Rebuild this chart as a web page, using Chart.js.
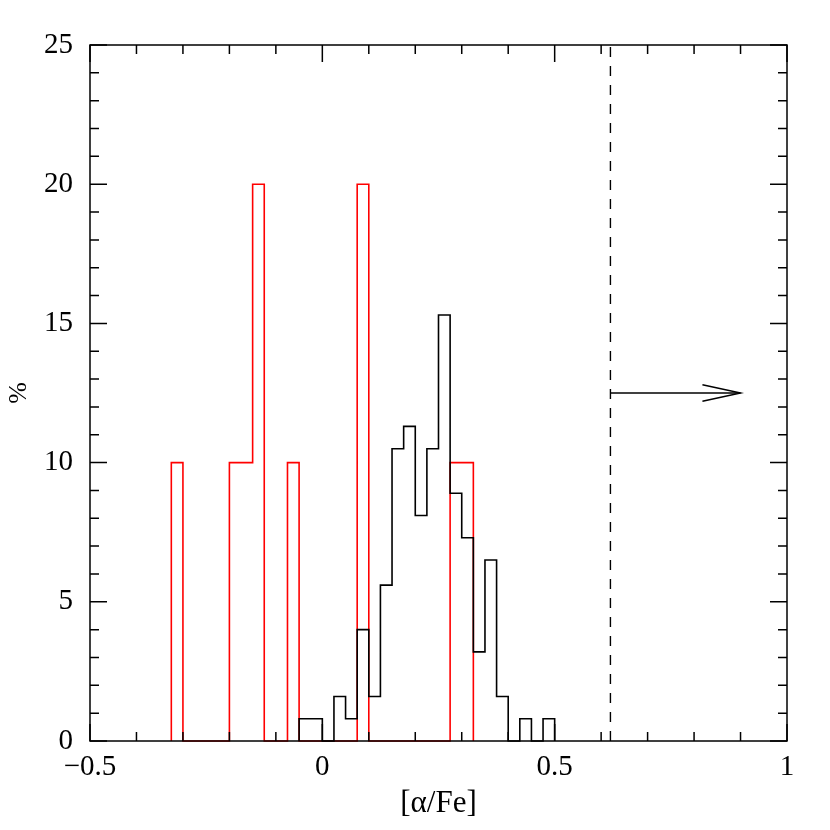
<!DOCTYPE html>
<html>
<head>
<meta charset="utf-8">
<script src="https://cdn.jsdelivr.net/npm/chart.js@4.4.1/dist/chart.umd.min.js"></script>
<style>
  html, body { margin: 0; padding: 0; background: #fff; }
  #wrap { width: 830px; height: 830px; }
</style>
</head>
<body>
<div id="wrap"><canvas id="histChart" width="830" height="830"></canvas></div>
<script>
// histogram bins (width 0.025), values in %
const binWidth = 0.025;

const blackStart = -0.05;
const blackValues = [0.8, 0.8, 0, 1.6, 0.8, 4.0, 1.6, 5.6, 10.5, 11.3, 8.1,
                     10.5, 15.3, 8.9, 7.3, 3.2, 6.5, 1.6, 0, 0.8, 0, 0.8];

const redStart = -0.325;
const redValues = [10, 0, 0, 0, 0, 10, 10, 20, 0, 0, 10, 0, 0, 0, 0, 0,
                   20, 0, 0, 0, 0, 0, 0, 0, 10, 10];

// limit marker and arrow
const limitX = 0.62;
const limitY = [0, 25];
const arrowX = [0.62, 0.9];
const arrowY = 12.5;
const arrowHeadX = [0.818, 0.9, 0.818];
const arrowHeadY = [12.8, 12.5, 12.2];

const xTicks = [-0.5, 0, 0.5, 1];
const yTicks = [0, 5, 10, 15, 20, 25];

function histPoints(start, values) {
    const pts = [{ x: start, y: 0 }];
    values.forEach((v, i) => pts.push({ x: start + i * binWidth, y: v }));
    pts.push({ x: start + values.length * binWidth, y: 0 });
    return pts;
}

function fmt(v) {
    if (v < 0) return '\u2212' + Math.abs(v);
    return String(v);
}

// box with inward ticks on all four sides
const frameTicks = {
    id: 'frameTicks',
    afterDatasetsDraw(chart) {
        const { ctx, chartArea: a, scales: { x, y } } = chart;
        ctx.save();
        ctx.strokeStyle = '#000';
        ctx.lineWidth = 1.5;
        ctx.strokeRect(a.left, a.top, a.right - a.left, a.bottom - a.top);
        ctx.beginPath();
        for (let i = 0; i <= 15; i++) {
            const v = -0.5 + i * 0.1;
            const px = x.getPixelForValue(v);
            const len = (i % 5 === 0) ? 17 : 9;
            ctx.moveTo(px, a.bottom); ctx.lineTo(px, a.bottom - len);
            ctx.moveTo(px, a.top); ctx.lineTo(px, a.top + len);
        }
        for (let v = 0; v <= 25; v++) {
            const py = y.getPixelForValue(v);
            const len = (v % 5 === 0) ? 17 : 9;
            ctx.moveTo(a.left, py); ctx.lineTo(a.left + len, py);
            ctx.moveTo(a.right, py); ctx.lineTo(a.right - len, py);
        }
        ctx.stroke();
        ctx.restore();
    }
};

const tickFont = { family: "'Liberation Serif', serif", size: 29 };

new Chart(document.getElementById('histChart').getContext('2d'), {
    type: 'line',
    data: {
        datasets: [
            {
                data: histPoints(blackStart, blackValues),
                borderColor: '#000',
                borderWidth: 1.6,
                stepped: 'before',
                pointRadius: 0,
                clip: false
            },
            {
                data: histPoints(redStart, redValues),
                borderColor: '#ff0000',
                borderWidth: 1.6,
                stepped: 'before',
                pointRadius: 0,
                clip: false
            },
            {
                data: limitY.map(v => ({ x: limitX, y: v })),
                borderColor: '#000',
                borderWidth: 1.4,
                borderDash: [10, 9],
                pointRadius: 0
            },
            {
                data: arrowX.map(v => ({ x: v, y: arrowY })),
                borderColor: '#000',
                borderWidth: 1.5,
                pointRadius: 0
            },
            {
                data: arrowHeadX.map((v, i) => ({ x: v, y: arrowHeadY[i] })),
                borderColor: '#000',
                borderWidth: 1.5,
                pointRadius: 0
            }
        ]
    },
    options: {
        responsive: false,
        animation: false,
        layout: { padding: { top: 45, right: 43, left: 4, bottom: 0 } },
        plugins: {
            legend: { display: false },
            tooltip: { enabled: false }
        },
        scales: {
            x: {
                type: 'linear',
                min: -0.5,
                max: 1,
                afterFit: s => { s.height = 89; },
                afterBuildTicks: s => { s.ticks = xTicks.map(v => ({ value: v })); },
                grid: { display: false, drawTicks: false },
                border: { display: false },
                ticks: {
                    padding: 9,
                    color: '#000',
                    font: tickFont,
                    maxRotation: 0,
                    autoSkip: false,
                    callback: v => fmt(v)
                },
                title: {
                    display: true,
                    text: '[\u03b1/Fe]',
                    color: '#000',
                    font: { family: "'Liberation Serif', serif", size: 31 },
                    padding: { top: 0, bottom: 8 }
                }
            },
            y: {
                type: 'linear',
                min: 0,
                max: 25,
                afterFit: s => { s.width = 86; },
                afterBuildTicks: s => { s.ticks = yTicks.map(v => ({ value: v })); },
                grid: { display: false, drawTicks: false },
                border: { display: false },
                ticks: {
                    padding: 17,
                    color: '#000',
                    font: tickFont,
                    autoSkip: false,
                    callback: v => fmt(v)
                },
                title: {
                    display: true,
                    text: '%',
                    color: '#000',
                    font: { family: "'Liberation Serif', serif", size: 26 },
                    padding: { top: 0, bottom: 0 }
                }
            }
        }
    },
    plugins: [frameTicks]
});
</script>
</body>
</html>
